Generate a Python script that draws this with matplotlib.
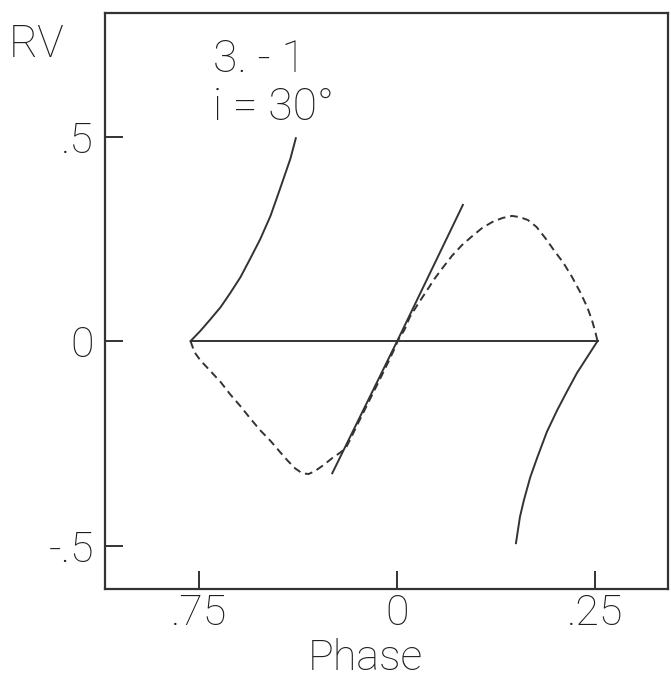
import numpy as np
import matplotlib
matplotlib.use('Agg')
from matplotlib import pyplot as plt

plt.rcParams['font.family'] = ['Roboto', 'DejaVu Sans']
plt.rcParams['font.weight'] = 'light'

# phase / RV
# upper-left solid branch
ul_x = [-0.261, -0.249, -0.236, -0.223, -0.211, -0.198, -0.186, -0.173, -0.160,
        -0.148, -0.135, -0.128]
ul_y = [0.0, 0.024, 0.053, 0.083, 0.117, 0.156, 0.200, 0.249, 0.306, 0.372,
        0.445, 0.496]
# lower-right solid branch
lr_x = [0.253, 0.240, 0.227, 0.215, 0.202, 0.189, 0.177, 0.168, 0.160, 0.155, 0.150]
lr_y = [0.0, -0.039, -0.078, -0.121, -0.169, -0.222, -0.284, -0.333, -0.389,
        -0.430, -0.494]
# straight line through origin
mid_x = [-0.082, 0.0, 0.083]
mid_y = [-0.323, 0.0, 0.333]
# flat line
flat_x = [-0.261, 0.253]
flat_y = [0.0, 0.0]
# dashed curve
d_x = [-0.261, -0.256, -0.249, -0.236, -0.223, -0.211, -0.198, -0.186, -0.173,
       -0.160, -0.148, -0.138, -0.129, -0.120, -0.112, -0.104, -0.093, -0.082,
       -0.073, -0.065, -0.058, -0.050, -0.040, -0.030, -0.020, -0.010, -0.003,
       0.001, 0.009, 0.016, 0.027, 0.037, 0.047, 0.057, 0.069, 0.082, 0.095,
       0.107, 0.120, 0.133, 0.145, 0.155, 0.165, 0.176, 0.187, 0.198, 0.210,
       0.221, 0.231, 0.240, 0.246, 0.250, 0.253]
d_y = [0.0, -0.027, -0.046, -0.073, -0.100, -0.130, -0.159, -0.188, -0.218,
       -0.244, -0.271, -0.293, -0.311, -0.323, -0.325, -0.318, -0.303, -0.286,
       -0.274, -0.262, -0.235, -0.203, -0.164, -0.125, -0.086, -0.046, -0.017,
       0.002, 0.027, 0.059, 0.093, 0.122, 0.152, 0.178, 0.208, 0.235, 0.257,
       0.276, 0.291, 0.301, 0.306, 0.303, 0.296, 0.279, 0.252, 0.222, 0.191,
       0.156, 0.120, 0.083, 0.051, 0.024, 0.0]

xticks = [-0.25, 0.0, 0.25]
xlabels = ['.75', '0', '.25']
yticks = [0.5, 0.0, -0.5]
ylabels = ['.5', '0', '-.5']

ink = '#333333'
txt = '#1e1e1e'
W, H = 671, 681
fig = plt.figure(figsize=(W / 100, H / 100), dpi=100)
ax = fig.add_axes([105 / W, 92 / H, 563 / W, 576 / H])

lw = 1.4
ax.plot(flat_x, flat_y, color=ink, lw=lw)
ax.plot(ul_x, ul_y, color=ink, lw=lw)
ax.plot(lr_x, lr_y, color=ink, lw=lw)
ax.plot(mid_x, mid_y, color=ink, lw=lw)
ax.plot(d_x, d_y, color=ink, lw=lw, ls=(0, (4, 2.5)))

ax.set_xlim(-0.369, 0.342)
ax.set_ylim(-0.606, 0.802)

ax.set_xticks(xticks)
ax.set_xticklabels(xlabels)
ax.set_yticks(yticks)
ax.set_yticklabels(ylabels)
ax.tick_params(direction='in', length=13, width=1.4, color=ink, labelcolor=txt,
               labelsize=31, pad=8)
ax.tick_params(axis='x', pad=3)
for sp in ax.spines.values():
    sp.set_linewidth(1.6)
    sp.set_color(ink)

# text placed by baseline, in figure pixels
fig.text(213 / W, 1 - 72 / H, '3. - 1', fontsize=32, color=txt, va='baseline', ha='left')
fig.text(213 / W, 1 - 120 / H, 'i = 30°', fontsize=32, color=txt, va='baseline', ha='left')
fig.text(9 / W, 1 - 57 / H, 'RV', fontsize=32, color=txt, va='baseline', ha='left')
fig.text(365 / W, 1 - 670 / H, 'Phase', fontsize=31, color=txt, va='baseline', ha='center')

fig.savefig('out.png', dpi=100)
